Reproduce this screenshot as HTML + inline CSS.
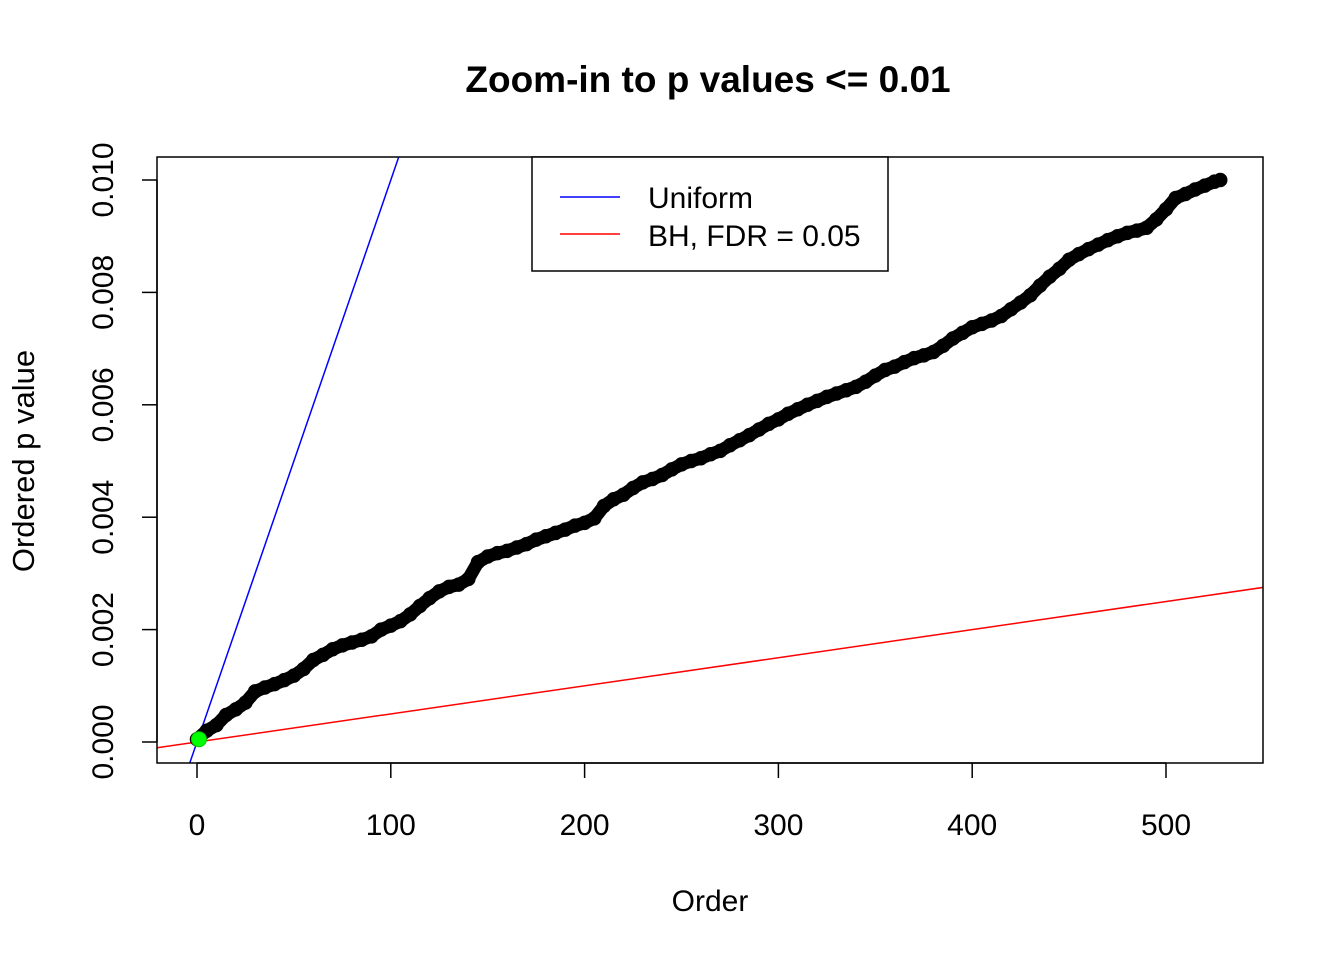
<!DOCTYPE html>
<html><head><meta charset="utf-8"><style>body{margin:0;background:#fff}svg{display:block;font-family:"Liberation Sans",Arial,sans-serif}</style></head>
<body>
<svg id="chart" width="1344" height="960" viewBox="0 0 1344 960">
<defs><clipPath id="plotclip"><rect x="157" y="157" width="1106" height="606"/></clipPath></defs>
<text x="708" y="92" text-anchor="middle" font-size="37" font-weight="bold">Zoom-in to p values &lt;= 0.01</text>
<g id="marks" clip-path="url(#plotclip)"></g>
<rect x="157" y="157" width="1106" height="606" fill="none" stroke="#000" stroke-width="1.5"/>
<g id="xaxis"></g>
<g id="yaxis"></g>
<text x="710" y="911" text-anchor="middle" font-size="30">Order</text>
<text transform="translate(34,461) rotate(-90)" text-anchor="middle" font-size="31">Ordered p value</text>
<g>
<rect x="532" y="157" width="356" height="114" fill="#fff" stroke="#000" stroke-width="1.5"/>
<line x1="560" y1="197" x2="620" y2="197" stroke="#0000ff" stroke-width="1.5"/>
<text x="648" y="208" font-size="30">Uniform</text>
<line x1="560" y1="234" x2="620" y2="234" stroke="#ff0000" stroke-width="1.5"/>
<text x="648" y="246" font-size="30">BH, FDR = 0.05</text>
</g>
</svg>
<script>
const orders = [0,5,10,15,20,25,30,35,40,45,50,55,60,65,70,75,80,85,90,95,100,105,110,115,120,125,130,135,140,145,150,155,160,165,170,175,180,185,190,195,200,205,210,215,220,225,230,235,240,245,250,255,260,265,270,275,280,285,290,295,300,305,310,315,320,325,330,335,340,345,350,355,360,365,370,375,380,385,390,395,400,405,410,415,420,425,430,435,440,445,450,455,460,465,470,475,480,485,490,495,500,505,510,515,520,525,528];
const pvals = [0.00005,0.0002,0.0003,0.00048,0.00058,0.0007,0.0009,0.00097,0.00103,0.0011,0.00118,0.0013,0.00146,0.00155,0.00165,0.00172,0.00177,0.00182,0.00188,0.002,0.00207,0.00215,0.00227,0.00242,0.00256,0.00268,0.00276,0.0028,0.0029,0.0032,0.0033,0.00336,0.0034,0.00346,0.00352,0.0036,0.00366,0.00372,0.00378,0.00385,0.0039,0.00398,0.0042,0.00432,0.0044,0.00452,0.00462,0.00468,0.00475,0.00485,0.00494,0.005,0.00505,0.00512,0.00518,0.00528,0.00537,0.00546,0.00556,0.00566,0.00574,0.00584,0.00592,0.006,0.00607,0.00614,0.0062,0.00626,0.00632,0.00641,0.00652,0.00662,0.00668,0.00676,0.00683,0.00688,0.00694,0.00705,0.00718,0.00728,0.00738,0.00744,0.0075,0.00758,0.0077,0.00782,0.00795,0.00812,0.00828,0.00842,0.00858,0.00868,0.00877,0.00885,0.00893,0.009,0.00906,0.0091,0.00915,0.0093,0.00948,0.00968,0.00975,0.00983,0.0099,0.00997,0.01];
const sigOrders = [1];
const sigPvals = [0.00005];
const nTests = 10000;
const fdr = 0.05;
const xTicks = [0,100,200,300,400,500];
const yTicks = [0,0.002,0.004,0.006,0.008,0.010];
const yTickLabels = ["0.000","0.002","0.004","0.006","0.008","0.010"];

const NS="http://www.w3.org/2000/svg";
const xs = v => 197 + (v)*1.938;
const ys = v => 742 - v*56200;
const marks=document.getElementById('marks');
function mk(tag,attrs,parent){const e=document.createElementNS(NS,tag);for(const k in attrs)e.setAttribute(k,attrs[k]);parent.appendChild(e);return e;}

const xmin=-21, xmax=551;
let u=mk('line',{x1:xs(xmin),y1:ys(xmin/nTests),x2:xs(xmax),y2:ys(xmax/nTests),stroke:'#0000ff','stroke-width':1.5},marks);


let b=mk('line',{x1:xs(xmin),y1:ys(fdr*xmin/nTests),x2:xs(xmax),y2:ys(fdr*xmax/nTests),stroke:'#ff0000','stroke-width':1.5},marks);



const band=mk('polyline',{points:orders.map((o,i)=>xs(o)+','+ys(pvals[i])).join(' '),fill:'none',stroke:'#000','stroke-width':13,'stroke-linejoin':'round','stroke-linecap':'round'},marks);


orders.forEach((o,i)=>{
  const c=mk('circle',{cx:xs(o),cy:ys(pvals[i]),r:6,fill:'none',stroke:'#000','stroke-width':2.5},marks);
  
  
});
sigOrders.forEach((o,i)=>{
  const c=mk('circle',{cx:xs(o),cy:ys(sigPvals[i]),r:7.5,fill:'#00ff00',stroke:'#00cc00','stroke-width':1},marks);
  
  
});

const xa=document.getElementById('xaxis');
let xl=mk('line',{x1:xs(xTicks[0]),y1:763,x2:xs(xTicks[xTicks.length-1]),y2:763,stroke:'#000','stroke-width':1.5},xa);


xTicks.forEach(t=>{
  const tk=mk('line',{x1:xs(t),y1:763,x2:xs(t),y2:778,stroke:'#000','stroke-width':1.5},xa);
  
  
  const tx=mk('text',{x:xs(t),y:835,'text-anchor':'middle','font-size':30},xa);
  tx.textContent=t;
  
  
});
const ya=document.getElementById('yaxis');
let yl=mk('line',{x1:157,y1:ys(yTicks[0]),x2:157,y2:ys(yTicks[yTicks.length-1]),stroke:'#000','stroke-width':1.5},ya);


yTicks.forEach((t,i)=>{
  const tk=mk('line',{x1:142,y1:ys(t),x2:157,y2:ys(t),stroke:'#000','stroke-width':1.5},ya);
  
  
  const tx=mk('text',{transform:`translate(113,${ys(t)}) rotate(-90)`,'text-anchor':'middle','font-size':30},ya);
  tx.textContent=yTickLabels[i];
  
  
});
</script>
</body></html>
